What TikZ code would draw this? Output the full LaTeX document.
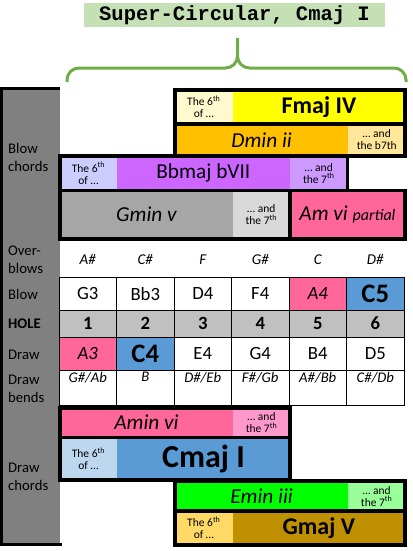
\documentclass[tikz,border=0pt]{standalone}
\usepackage{fontspec}
\setmainfont{Carlito}
\newfontfamily\monofont{Liberation Mono}
\usepackage{tikz}
\usetikzlibrary{positioning}
\definecolor{titlegreen}{HTML}{C5E0B4}
\definecolor{bracegreen}{HTML}{70AD47}
\definecolor{sidegray}{HTML}{808080}
\definecolor{holegray}{HTML}{C0C0C0}
\definecolor{sixyellow}{HTML}{FFFACD}
\definecolor{fmajyellow}{HTML}{FFFF00}
\definecolor{dminorange}{HTML}{FFC000}
\definecolor{dminlight}{HTML}{FFE699}
\definecolor{bbsix}{HTML}{CCCCFF}
\definecolor{bbpurple}{HTML}{CC66FF}
\definecolor{bblight}{HTML}{CC99FF}
\definecolor{gmingray}{HTML}{A6A6A6}
\definecolor{gminlight}{HTML}{D9D9D9}
\definecolor{pink}{HTML}{FF6699}
\definecolor{pinklight}{HTML}{FF99CC}
\definecolor{cmajblue}{HTML}{5B9BD5}
\definecolor{cmajlight}{HTML}{BDD7EE}
\definecolor{emingreen}{HTML}{00FF00}
\definecolor{eminlight}{HTML}{99FF99}
\definecolor{gmajsix}{HTML}{FFD966}
\definecolor{gmajgold}{HTML}{BF9000}
\newcommand{\sixth}{The 6\textsuperscript{th}\\of …}
\newcommand{\seventh}{… and\\the 7\textsuperscript{th}}

\begin{document}
\begin{tikzpicture}[x=1pt, y=-1pt,
  cell/.style={inner sep=0pt, outer sep=0pt, align=center},
  frame/.style={draw=black, line width=3.8pt},
  small/.style={font=\fontsize{11.5}{12}\selectfont},
  chordit/.style={font=\fontsize{21.3}{24}\selectfont\itshape},
  chordbf/.style={font=\fontsize{24}{28}\selectfont\bfseries},
  sidelabel/.style={anchor=west, align=left, inner sep=0pt, font=\fontsize{14.7}{18}\selectfont},
  notecell/.style={anchor=north west, inner sep=0pt, outer sep=0pt, minimum width=57.5,
    draw=black, line width=0.8pt, fill=white, font=\fontsize{18.7}{22}\selectfont},
  whitenote/.style={},
  pinknote/.style={fill=pink, font=\fontsize{18.7}{22}\selectfont\itshape},
  bluenote/.style={fill=cmajblue, font=\fontsize{26.7}{30}\selectfont\bfseries}]
\useasboundingbox (0,0) rectangle (412,551);

% title and brace
\node[cell, fill=titlegreen, minimum width=301, minimum height=23.4,
  font=\fontsize{20.5}{24}\monofont\bfseries] (title) at (234.5,15) {Super-Circular, Cmaj I};
\coordinate (bracetip) at (237.5,38);
\coordinate (braceleft) at (67,82);
\coordinate (braceright) at (406,82);
\draw[bracegreen, line width=3pt, rounded corners=12pt]
  (braceleft) -- (67,68) -- (237.5,68) -- (bracetip)
  (braceright) -- (406,68) -- (237.5,68) -- (bracetip);

% side column
\fill[sidegray] (0,88.5) rectangle (59.5,544);
\draw[line width=3pt] (59.5,88.5) -- (1.5,88.5) -- (1.5,544) -- (62,544);
\node[sidelabel] (blowchords) at (8,157.5) {Blow\\chords};
\node[sidelabel] (overblows) at (8,259.5) {Over-\\blows};
\node[sidelabel] (blowlbl) at (8,294) {Blow};
\node[sidelabel, font=\fontsize{14.7}{18}\selectfont\bfseries] (holelbl) at (8,324) {HOLE};
\node[sidelabel] (drawlbl) at (8,355) {Draw};
\node[sidelabel] (drawbends) at (8,389) {Draw\\bends};
\node[sidelabel] (drawchords) at (8,477) {Draw\\chords};

% hole grid
\foreach \n [count=\i] in {A\#,C\#,F,G\#,C,D\#}
  \node[cell, font=\fontsize{15}{18}\selectfont\itshape] (over\i) at ({59+57.5*(\i-0.5)},259.5) {\n};
\foreach \n/\s [count=\i] in {G3/whitenote,Bb3/whitenote,D4/whitenote,F4/whitenote,A4/pinknote,C5/bluenote}
  \node[notecell, minimum height=32.7, \s] (blow\i) at ({59+57.5*(\i-1)},277.3) {\n};
\foreach \i in {1,...,6}
  \node[notecell, minimum height=27.3, fill=holegray, font=\fontsize{18.7}{22}\selectfont\bfseries] (hole\i) at ({59+57.5*(\i-1)},310) {\i};
\foreach \n/\s [count=\i] in {A3/pinknote,C4/bluenote,E4/whitenote,G4/whitenote,B4/whitenote,D5/whitenote}
  \node[notecell, minimum height=32.7, \s] (draw\i) at ({59+57.5*(\i-1)},337.3) {\n};
\foreach \n [count=\i] in {G\#\slash Ab,B,D\#\slash Eb,F\#\slash Gb,A\#\slash Bb,C\#\slash Db} {
  \node[notecell, minimum height=35.7] (bend\i) at ({59+57.5*(\i-1)},370) {};
  \node[cell, below=2pt of bend\i.north, font=\fontsize{14.7}{18}\selectfont\itshape] (bendt\i) {\n};
}

% blow chords
\node[cell, small, fill=sixyellow, minimum width=57.7, minimum height=33.4] (fmajsix) at (203.85,107) {\sixth};
\node[cell, chordbf, fill=fmajyellow, minimum width=172.5, minimum height=33.4] (fmaj) at (318.95,107) {Fmaj IV};
\node[cell, chordit, fill=dminorange, minimum width=173.3, minimum height=32.6] (dmin) at (261.65,140) {Dmin ii};
\node[cell, small, fill=dminlight, minimum width=56.9, minimum height=32.6] (dminsev) at (376.75,140) {… and\\the b7th};
\draw[frame] (fmajsix.north west) rectangle (dminsev.south east);
\draw[frame] (fmajsix.south west) -- (fmaj.south east);

\node[cell, small, fill=bbsix, minimum width=56.5, minimum height=34.2] (bbsix) at (88.45,173.4) {\sixth};
\node[cell, fill=bbpurple, minimum width=173.3, minimum height=34.2, font=\fontsize{21.3}{24}\selectfont] (bbmaj) at (203.35,173.4) {Bbmaj bVII};
\node[cell, small, fill=bblight, minimum width=57.5, minimum height=34.2] (bbsev) at (318.75,173.4) {\seventh};
\draw[frame] (bbsix.north west) rectangle (bbsev.south east);

\node[cell, chordit, fill=gmingray, minimum width=172.5, minimum height=48.3] (gmin) at (146.45,214.65) {Gmin v};
\node[cell, small, fill=gminlight, minimum width=57.2, minimum height=48.3] (gminsev) at (261.3,214.65) {\seventh};
\node[cell, chordit, fill=pink, minimum width=115.1, minimum height=48.3] (amvi) at (347.45,214.65) {Am vi {\fontsize{16}{18}\selectfont partial}};
\draw[frame] (gmin.north west) rectangle (amvi.south east);
\draw[frame] (amvi.north west) -- (amvi.south west);

% draw chords
\node[cell, chordit, fill=pink, minimum width=172.5, minimum height=29.8] (amin) at (146.45,422.6) {Amin vi};
\node[cell, small, fill=pinklight, minimum width=57.6, minimum height=29.8] (aminsev) at (261.5,422.6) {\seventh};
\node[cell, small, fill=cmajlight, minimum width=56.5, minimum height=42.7] (cmajsix) at (88.45,458.85) {\sixth};
\node[cell, fill=cmajblue, minimum width=173.6, minimum height=42.7, font=\fontsize{32}{36}\selectfont\bfseries] (cmaj) at (203.5,458.85) {Cmaj I};
\draw[frame] (amin.north west) rectangle (cmaj.south east);
\draw[frame] (amin.south west) -- (aminsev.south east);

\node[cell, chordit, fill=emingreen, minimum width=173.3, minimum height=29.5] (emin) at (261.65,496.05) {Emin iii};
\node[cell, small, fill=eminlight, minimum width=56.7, minimum height=29.5] (eminsev) at (376.65,496.05) {\seventh};
\node[cell, small, fill=gmajsix, minimum width=57.7, minimum height=33.9] (gmajsix) at (203.85,527.75) {\sixth};
\node[cell, chordbf, fill=gmajgold, minimum width=172.3, minimum height=33.9] (gmaj) at (318.85,527.75) {Gmaj V};
\draw[frame] (emin.north west) rectangle (gmaj.south east);
\draw[frame] (emin.south west) -- (eminsev.south east);
\end{tikzpicture}
\end{document}
